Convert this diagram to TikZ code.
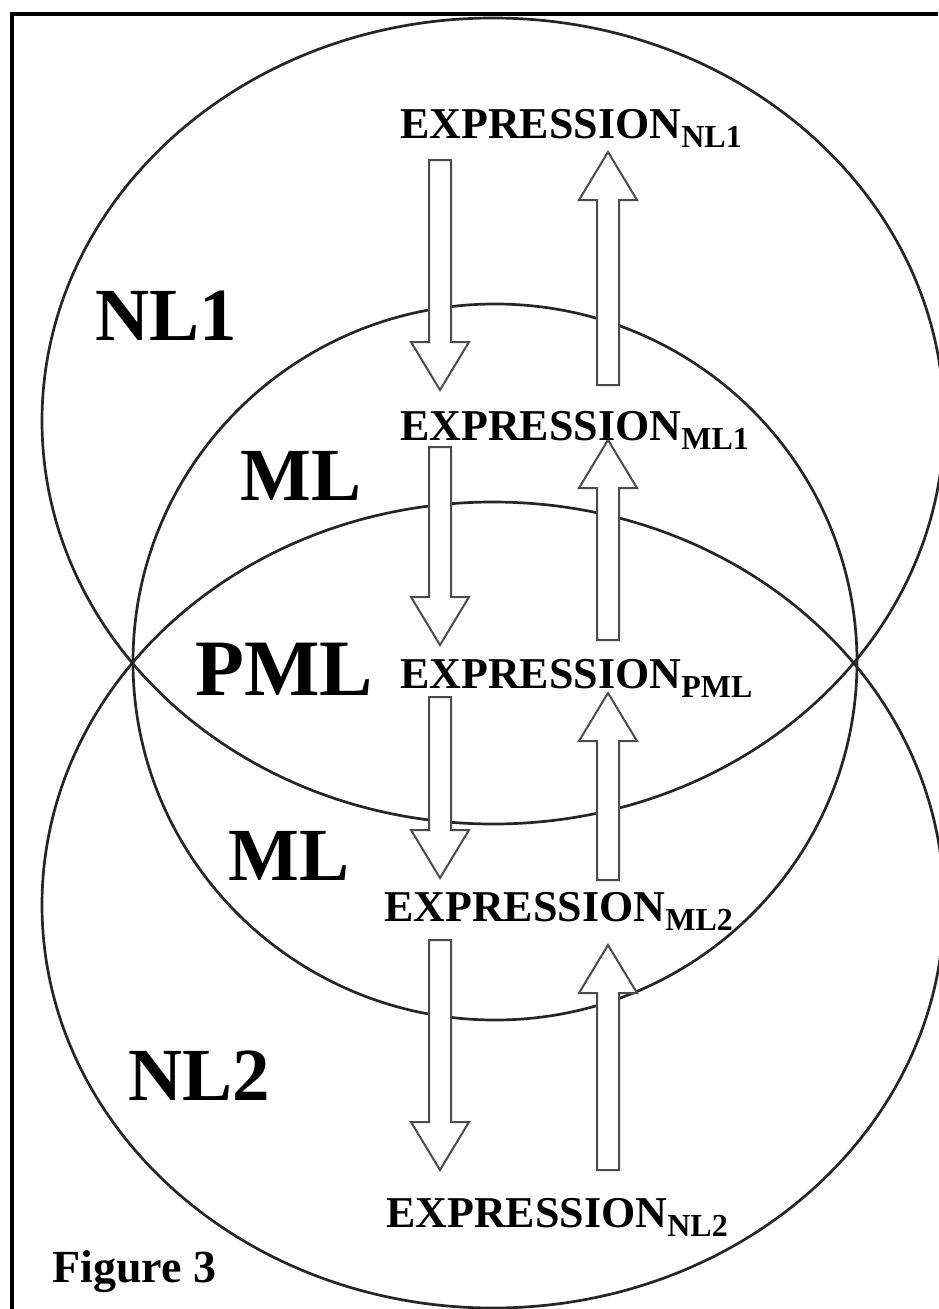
\documentclass[tikz,border=0pt]{standalone}
\usepackage{fontspec}
\setmainfont{Liberation Serif}
\newcommand\exprtext[1]{{\fontsize{44}{44}\selectfont\bfseries EXPRESSION}\raisebox{-9pt}{\fontsize{32}{32}\selectfont\bfseries #1}}
\newcommand\blockarrow[3]{%
  \pgfmathsetmacro\arrs{sign(#3-#2)}%
  \pgfmathsetmacro\arrhb{#3-\arrs*48}%
  \draw[barrow] ({#1-11},#2) -- ({#1+11},#2) -- ({#1+11},\arrhb) -- ({#1+29},\arrhb)
    -- (#1,#3) -- ({#1-29},\arrhb) -- ({#1-11},\arrhb) -- cycle;}
\tikzset{
  ring/.style={draw=black!85, line width=2.7pt},
  barrow/.style={draw=black!70, fill=white, line width=2pt, line join=miter},
  exprlabel/.style={anchor=base west, inner sep=0pt},
  biglabel/.style={anchor=base west, inner sep=0pt, font=\fontsize{75}{75}\selectfont\bfseries},
}
\begin{document}
\begin{tikzpicture}[x=1pt,y=-1pt]
\useasboundingbox (0,0) rectangle (938,1309);
\fill[white] (0,0) rectangle (938,1309);
% frame
\draw[line width=4pt] (12,1309) -- (12,14) -- (938,14);
% circles
\draw[ring] (493,421) ellipse [x radius=451, y radius=403];
\draw[ring] (493,905) ellipse [x radius=451, y radius=403];
\draw[ring] (495,662) ellipse [x radius=362, y radius=358];
% down arrows
\blockarrow{440}{160}{390}
\blockarrow{440}{447}{645}
\blockarrow{440}{697}{878}
\blockarrow{440}{940}{1170}
% up arrows
\blockarrow{608}{385}{152}
\blockarrow{608}{640}{440}
\blockarrow{608}{880}{693}
\blockarrow{608}{1170}{945}
% expressions
\node[exprlabel] (enl1) at (400,138) {\exprtext{NL1}};
\node[exprlabel] (eml1) at (400,440) {\exprtext{ML1}};
\node[exprlabel] (epml) at (400,688) {\exprtext{PML}};
\node[exprlabel] (eml2) at (384,921) {\exprtext{ML2}};
\node[exprlabel] (enl2) at (386,1227) {\exprtext{NL2}};
% region labels
\node[biglabel] (lnl1) at (95,340) {NL1};
\node[biglabel] (lml1) at (240,500) {ML};
\node[biglabel, font=\fontsize{80}{80}\selectfont\bfseries] (lpml) at (195,695) {PML};
\node[biglabel] (lml2) at (228,880) {ML};
\node[biglabel] (lnl2) at (128,1100) {NL2};
\node[anchor=base west, inner sep=0pt, font=\fontsize{46}{46}\selectfont\bfseries] (fig) at (52,1282) {Figure 3};
\end{tikzpicture}
\end{document}
